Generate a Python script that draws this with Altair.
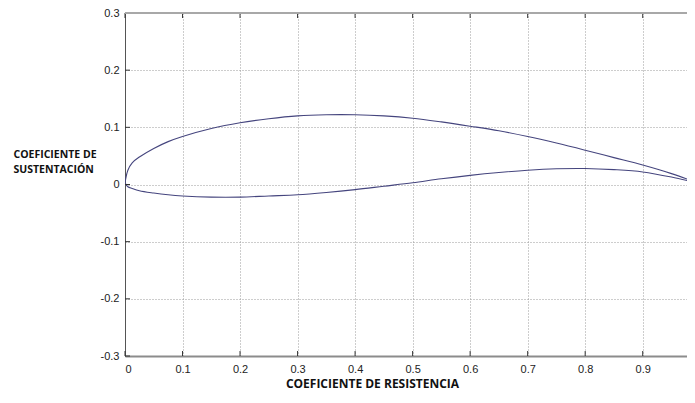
import altair as alt
import pandas as pd

# Upper surface (trailing edge -> leading edge)
upper_x = [1.0, 0.95, 0.90, 0.85, 0.80, 0.75, 0.70, 0.65, 0.60, 0.55, 0.50, 0.45,
           0.40, 0.35, 0.30, 0.25, 0.20, 0.15, 0.10, 0.075, 0.05, 0.025, 0.0125, 0.005, 0.0]
upper_y = [0.0013, 0.019, 0.034, 0.047, 0.060, 0.0725, 0.084, 0.094, 0.102, 0.1095, 0.116, 0.120,
           0.122, 0.122, 0.120, 0.115, 0.108, 0.098, 0.084, 0.075, 0.063, 0.048, 0.038, 0.025, 0.003]
# Lower surface (leading edge -> trailing edge)
lower_x = [0.0, 0.005, 0.0125, 0.025, 0.05, 0.075, 0.10, 0.15, 0.20, 0.25, 0.30, 0.35,
           0.40, 0.45, 0.50, 0.55, 0.60, 0.65, 0.70, 0.75, 0.80, 0.85, 0.90, 0.95, 1.0]
lower_y = [0.003, -0.004, -0.007, -0.011, -0.015, -0.018, -0.020, -0.022, -0.022, -0.020, -0.018, -0.014,
           -0.009, -0.003, 0.003, 0.010, 0.016, 0.021, 0.025, 0.0275, 0.028, 0.026, 0.022, 0.013, 0.0013]

x_ticks = [0, 0.1, 0.2, 0.3, 0.4, 0.5, 0.6, 0.7, 0.8, 0.9]
y_ticks = [-0.3, -0.2, -0.1, 0, 0.1, 0.2, 0.3]

x_title = "COEFICIENTE DE RESISTENCIA"
y_title = ["COEFICIENTE DE", "SUSTENTACIÓN"]

xs = upper_x + lower_x
ys = upper_y + lower_y
df = pd.DataFrame({"x": xs, "y": ys, "order": list(range(len(xs)))})
X_MAX = 0.977
xt = pd.DataFrame({"t": x_ticks, "lo": [-0.3] * len(x_ticks), "hi": [0.3] * len(x_ticks)})
yt = pd.DataFrame({"t": y_ticks, "z": [0.0] * len(y_ticks)})
border = pd.DataFrame({"x0": [0.0], "x1": [X_MAX], "yt": [0.3]})

xscale = alt.Scale(domain=[0, X_MAX], nice=False, zero=False)
yscale = alt.Scale(domain=[-0.3, 0.3], nice=False, zero=False)
label_expr = "datum.value + ''"

xaxis = alt.Axis(values=x_ticks, labelExpr=label_expr,
                 labelFont="Liberation Sans", labelFontSize=11, labelColor="#222",
                 ticks=False, labelPadding=7,
                 domainColor="#8c8c8c", domainWidth=2,
                 grid=True, gridColor="#9a9a9a", gridDash=[1, 2], gridWidth=1,
                 title=x_title, titleFont="Open Sans", titleFontWeight="bold",
                 titleFontSize=12, titleColor="#111",
                 titleX=247, titleY=31, titleAlign="center",
                 titleBaseline="alphabetic")
yaxis = alt.Axis(values=y_ticks, labelExpr=label_expr,
                 labelFont="Liberation Sans", labelFontSize=11, labelColor="#222",
                 ticks=False, labelPadding=6,
                 domainColor="#555", domainWidth=1,
                 grid=True, gridColor="#9a9a9a", gridDash=[1, 2], gridWidth=1,
                 title=y_title, titleFont="Open Sans", titleFontWeight="bold",
                 titleFontSize=10.5, titleColor="#111", titleAngle=0,
                 titleX=-112, titleY=144, titleAlign="left",
                 titleBaseline="alphabetic", titleLineHeight=15)

line = alt.Chart(df).mark_line(color="#45457e", strokeWidth=1.1, clip=True,
                               interpolate="catmull-rom").encode(
    x=alt.X("x:Q", scale=xscale, axis=xaxis),
    y=alt.Y("y:Q", scale=yscale, axis=yaxis),
    order="order:Q",
)

bottom_ticks = alt.Chart(xt).mark_rule(color="#333", strokeWidth=1, y2Offset=-5).encode(
    x=alt.X("t:Q", scale=xscale),
    y=alt.Y("lo:Q", scale=yscale),
    y2="lo:Q",
)
top_ticks = alt.Chart(xt).mark_rule(color="#333", strokeWidth=1, y2Offset=5).encode(
    x=alt.X("t:Q", scale=xscale),
    y=alt.Y("hi:Q", scale=yscale),
    y2="hi:Q",
)
left_ticks = alt.Chart(yt).mark_rule(color="#333", strokeWidth=1, x2Offset=5).encode(
    y=alt.Y("t:Q", scale=yscale),
    x=alt.X("z:Q", scale=xscale),
    x2="z:Q",
)
top_border = alt.Chart(border).mark_rule(color="#a8a8a8", strokeWidth=2).encode(
    x=alt.X("x0:Q", scale=xscale),
    x2="x1:Q",
    y=alt.Y("yt:Q", scale=yscale),
)

chart = alt.layer(line, bottom_ticks, top_ticks, left_ticks, top_border).properties(
    width=562,
    height=343,
    autosize=alt.AutoSizeParams(type="none"),
    padding={"left": 117, "top": 5, "right": 0, "bottom": 35},
    background="white",
).configure_view(stroke=None)

chart.save("out.html", embed_options={"renderer": "svg", "actions": False})
